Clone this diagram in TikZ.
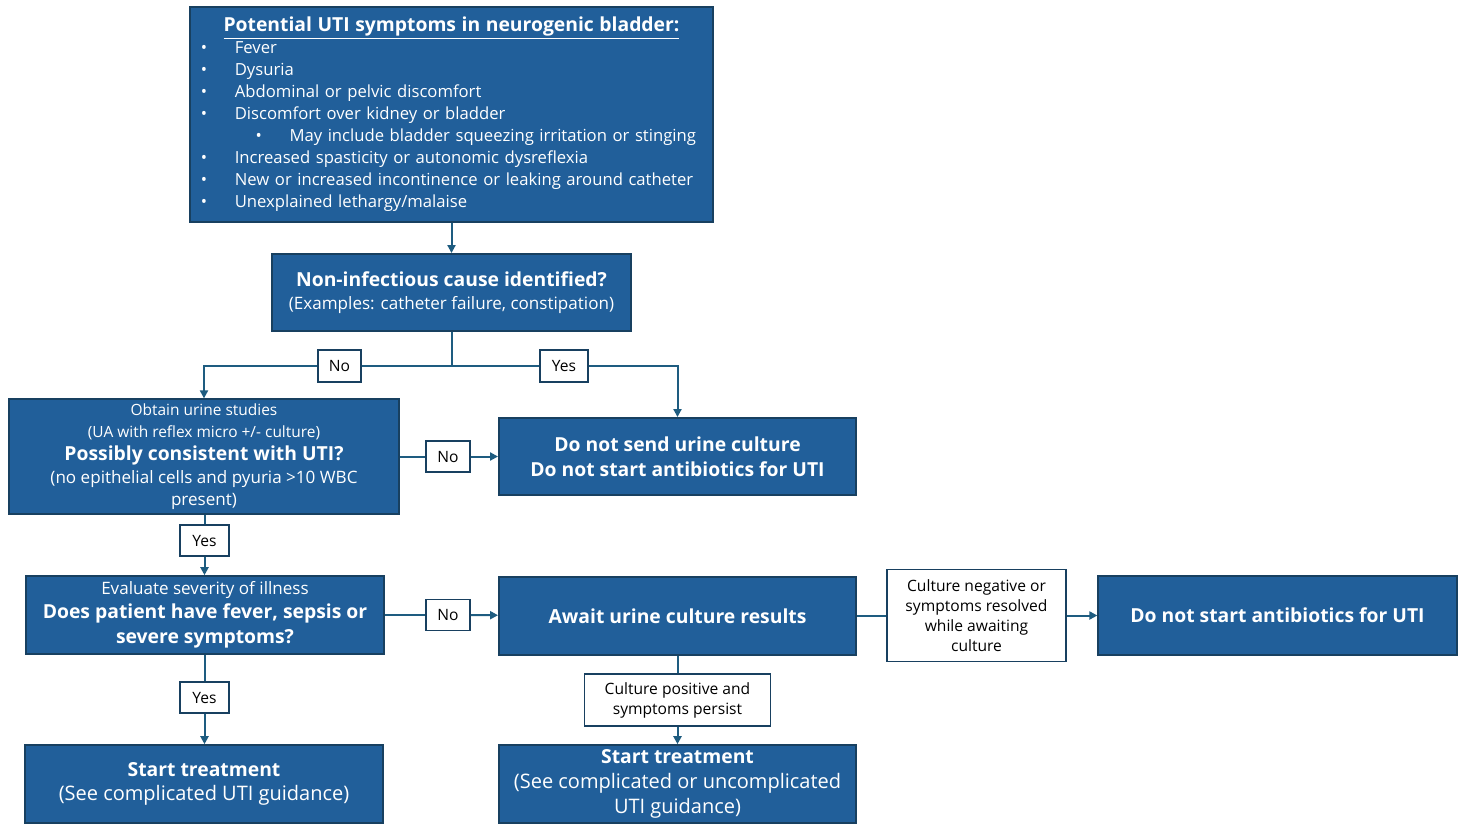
\documentclass[tikz,border=0pt]{standalone}
\usepackage{fontspec}
\setmainfont{Open Sans}
\usepackage{tikz}
\usetikzlibrary{arrows.meta, positioning}

\definecolor{boxblue}{RGB}{33,95,154}
\definecolor{boxedge}{RGB}{24,64,96}
\definecolor{linkblue}{RGB}{30,92,128}

\newcommand{\fsmall}{\fontsize{11.6}{16}\selectfont}
\newcommand{\fbody}{\fontsize{12.8}{17}\selectfont}
\newcommand{\flarge}{\fontsize{15}{18.5}\selectfont}
\newcommand{\fhead}{\fontsize{14.5}{18.5}\selectfont\bfseries}
\newcommand{\flabel}{\fontsize{11.7}{15}\selectfont}
\newcommand{\bulitem}[1]{\makebox[25.5pt][l]{\textbullet}#1}

\begin{document}
\begin{tikzpicture}[
                x=0.75pt, y=-0.75pt,
                mainbox/.style={draw=boxedge, fill=boxblue, text=white, line width=1.2pt, align=center, inner sep=2pt, font=\fbody},
                labelbox/.style={draw=boxedge, fill=white, text=black, line width=1.2pt, align=center, inner sep=2pt, font=\flabel},
                link/.style={draw=linkblue, line width=1.5pt},
                arrow/.style={link, -{Triangle[length=6pt, width=6pt]}}
            ]
            \useasboundingbox (0,0) rectangle (1460,825);

            % Boites principales
            \node[mainbox, minimum width=392pt, minimum height=161pt, text width=376pt, align=left,
                  font=\fontsize{12.5}{16.5}\selectfont] (symptoms) at (451.5,114.5)
                {\centerline{\fhead\underline{Potential UTI symptoms in neurogenic bladder:}}
                 \bulitem{Fever}\\
                 \bulitem{Dysuria}\\
                 \bulitem{Abdominal or pelvic discomfort}\\
                 \bulitem{Discomfort over kidney or bladder}\\
                 \hspace*{41pt}\bulitem{May include bladder squeezing irritation or stinging}\\
                 \bulitem{Increased spasticity or autonomic dysreflexia}\\
                 \bulitem{New or increased incontinence or leaking around catheter}\\
                 \bulitem{Unexplained lethargy/malaise}};
            \node[mainbox, minimum width=269pt, minimum height=58pt] (noninf) at (451.5,292.5)
                {{\fhead Non-infectious cause identified?}\\(Examples: catheter failure, constipation)};
            \node[mainbox, minimum width=292.5pt, minimum height=86pt] (studies) at (204,456.5)
                {{\fsmall Obtain urine studies}\\{\fsmall (UA with reflex micro +/- culture)}\\{\fhead Possibly consistent with UTI?}\\(no epithelial cells and pyuria >10 WBC\\present)};
            \node[mainbox, minimum width=268pt, minimum height=58pt, font=\fhead] (nosend) at (677.5,456.5)
                {Do not send urine culture\\Do not start antibiotics for UTI};
            \node[mainbox, minimum width=268.5pt, minimum height=58.5pt] (severity) at (205,615)
                {Evaluate severity of illness\\[1pt]{\fhead Does patient have fever, sepsis or}\\[1.5pt]{\fhead severe symptoms?}};
            \node[mainbox, minimum width=268pt, minimum height=58.5pt, font=\fhead] (await) at (677.5,616)
                {Await urine culture results};
            \node[mainbox, minimum width=269pt, minimum height=59pt, font=\fhead] (noabx) at (1277.5,615.5)
                {Do not start antibiotics for UTI};
            \node[mainbox, minimum width=268.5pt, minimum height=58.5pt, font=\flarge] (treatcomp) at (204,784)
                {{\fhead Start treatment}\\(See complicated UTI guidance)};
            \node[mainbox, minimum width=268pt, minimum height=58.5pt, font=\flarge] (treatany) at (677.5,784)
                {{\fhead Start treatment}\\(See complicated or uncomplicated\\UTI guidance)};

            % Etiquettes
            \node[labelbox, minimum width=32pt, minimum height=24pt] (nocause) at (339.5,366) {No};
            \node[labelbox, minimum width=36pt, minimum height=24pt] (yescause) at (564,366) {Yes};
            \node[labelbox, minimum width=33pt, minimum height=23pt] (nouti) at (448,456.5) {No};
            \node[labelbox, minimum width=36.5pt, minimum height=23pt] (yesuti) at (204.5,540.5) {Yes};
            \node[labelbox, minimum width=33pt, minimum height=23pt] (nosevere) at (448,615) {No};
            \node[labelbox, minimum width=36.5pt, minimum height=23pt] (yessevere) at (204.5,697.5) {Yes};
            \node[labelbox, minimum width=134pt, minimum height=69pt] (negative) at (976.5,615.5)
                {Culture negative or\\symptoms resolved\\while awaiting\\culture};
            \node[labelbox, minimum width=139.5pt, minimum height=39pt] (positive) at (677.5,700)
                {Culture positive and\\symptoms persist};
            \coordinate (split) at (451.5,366);

            % Liens
            \draw[arrow] (symptoms) -- (noninf);
            \draw[link] (noninf) -- (split) -- (nocause);
            \draw[arrow] (nocause) -| (studies);
            \draw[link] (split) -- (yescause);
            \draw[arrow] (yescause) -| (nosend);
            \draw[link] (studies) -- (nouti);
            \draw[arrow] (nouti) -- (nosend);
            \draw[link] (studies.south -| yesuti) -- (yesuti);
            \draw[arrow] (yesuti) -- (severity.north -| yesuti);
            \draw[link] (severity) -- (nosevere);
            \draw[arrow] (nosevere) -- (await);
            \draw[link] (severity.south -| yessevere) -- (yessevere);
            \draw[arrow] (yessevere) -- (treatcomp.north -| yessevere);
            \draw[link] (await.east |- negative) -- (negative);
            \draw[arrow] (negative) -- (noabx.west |- negative);
            \draw[link] (await) -- (positive);
            \draw[arrow] (positive) -- (treatany);
        \end{tikzpicture}
\end{document}
